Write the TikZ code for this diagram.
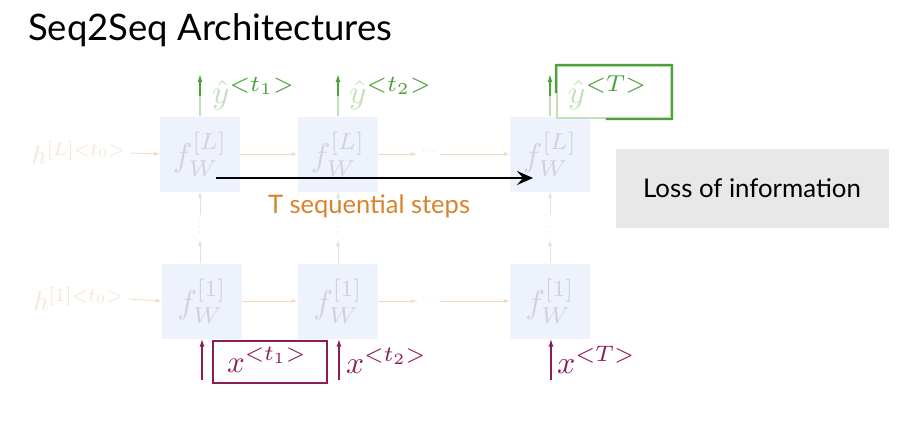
\documentclass[tikz,border=0pt]{standalone}
\usepackage{graphicx}
\usepackage{fontspec}
\setmainfont{Lato}
\usetikzlibrary{arrows.meta,calc}
\newcommand{\mathbig}[2]{\scalebox{#1}{$#2$}}
\definecolor{boxblue}{HTML}{EEF2FC}
\definecolor{ftext}{HTML}{D2D3D8}
\definecolor{hfaint}{HTML}{F5E6D8}
\definecolor{harrow}{HTML}{F7D9C0}
\definecolor{vfaint}{HTML}{D8E8D2}
\definecolor{ygreen}{HTML}{4CA23A}
\definecolor{yfade}{HTML}{C4DFBA}
\definecolor{xpurple}{HTML}{8C1D5B}
\definecolor{torange}{HTML}{D9822B}
\definecolor{lossgray}{HTML}{E8E8E8}
\tikzset{
  cell/.style={fill=boxblue, minimum width=80pt, minimum height=75pt, inner sep=0pt, text=ftext, font=\fontsize{10}{12}\selectfont},
  hlab/.style={text=hfaint, font=\fontsize{10}{12}\selectfont, inner sep=0pt},
  harr/.style={draw=harrow, line width=0.8pt, -{Latex[length=6pt,width=4pt]}},
  varr/.style={draw=vfaint, line width=0.8pt, -{Latex[length=6pt,width=4pt]}},
  garr/.style={draw=ygreen, line width=1.3pt, -{Latex[length=8pt,width=5pt]}},
  gfade/.style={draw=yfade, line width=1.3pt},
  parr/.style={draw=xpurple, line width=1.4pt, -{Latex[length=8pt,width=5pt]}},
  ylab/.style={text=ygreen, font=\fontsize{10}{12}\selectfont, inner sep=0pt},
  xlab/.style={text=xpurple, font=\fontsize{10}{12}\selectfont, inner sep=0pt},
  dotlab/.style={font=\fontsize{12}{12}\selectfont, inner sep=0pt},
}
\begin{document}
\begin{tikzpicture}[x=1pt,y=-1pt]
\useasboundingbox (0,0) rectangle (912,426);
\fill[white] (0,0) rectangle (912,426);
% title
\node[anchor=base west, inner sep=0pt, font=\fontsize{36.5}{40}\selectfont] (title) at (28,40) {Seq2Seq Architectures};
% cells
\node[cell] (t1) at (200,154) {\mathbig{3.3}{f_W^{[L]}}};
\node[cell] (t2) at (338,154) {\mathbig{3.3}{f_W^{[L]}}};
\node[cell] (t3) at (550,154) {\mathbig{3.3}{f_W^{[L]}}};
\node[cell] (b1) at (202,301) {\mathbig{3.3}{f_W^{[1]}}};
\node[cell] (b2) at (338,301) {\mathbig{3.3}{f_W^{[1]}}};
\node[cell] (b3) at (550,301) {\mathbig{3.3}{f_W^{[1]}}};
% h labels
\node[hlab] (hL) at (79,153) {\mathbig{2.65}{h^{[L]<t_0>}}};
\node[hlab] (h1) at (79,299) {\mathbig{2.65}{h^{[1]<t_0>}}};
% horizontal arrows top
\draw[harr] (hL.east) ++(4,0) coordinate (hLe) -- (t1.west);
\draw[harr] (t1.east) -- (t2.west);
\coordinate (tm1) at (417,154);
\coordinate (tm2) at (440,154);
\draw[harr] (t2.east) -- (tm1);
\node[dotlab, text=harrow] (tdots) at (429,152) {$\cdots$};
\draw[harr] (tm2) -- (t3.west);
% horizontal arrows bottom
\draw[harr] (h1.east) ++(4,0) coordinate (h1e) -- (b1.west);
\draw[harr] (b1.east) -- (b2.west);
\coordinate (bm1) at (417,301);
\coordinate (bm2) at (440,301);
\draw[harr] (b2.east) -- (bm1);
\node[dotlab, text=harrow] (bdots) at (429,299) {$\cdots$};
\draw[harr] (bm2) -- (b3.west);
% vertical arrows between layers
\foreach \i/\xx in {1/200,2/338,3/550}{
  \coordinate (va\i) at (\xx,240);
  \coordinate (vb\i) at (\xx,215);
  \draw[varr] (b\i.north -| va\i) -- (va\i);
  \node[dotlab, text=vfaint, rotate=90] (vd\i) at (\xx,227) {$\cdots$};
  \draw[varr] (vb\i) -- (t\i.south -| vb\i);
}
% green outputs
\foreach \i/\xx in {1/200,2/338,3/550}{
  \coordinate (gm\i) at (\xx,96);
  \coordinate (gt\i) at (\xx,74);
  \draw[gfade] (t\i.north -| gm\i) -- (gm\i);
  \draw[garr] (gm\i) -- (gt\i);
}
\node[ylab, anchor=base west] (y1) at (212,103) {\mathbig{3.3}{\textcolor{yfade}{\hat{y}}^{<t_1>}}};
\node[ylab, anchor=base west] (y2) at (349,103) {\mathbig{3.3}{\textcolor{yfade}{\hat{y}}^{<t_2>}}};
\node[ylab, anchor=base west] (y3) at (568,103) {\mathbig{3.3}{\textcolor{yfade}{\hat{y}}^{<T>}}};
\node[draw=yfade, line width=2.2pt, minimum width=114pt, minimum height=52pt, inner sep=0pt] (ybox) at (614,92) {};
\draw[ygreen, line width=2.2pt] ($(ybox.south west)!0.43!(ybox.south east)$) -- (ybox.south east) -- (ybox.north east) -- (ybox.north west) -- ($(ybox.north west)!0.52!(ybox.south west)$);
% purple inputs
\foreach \i/\xx in {1/202,2/339,3/551}{
  \coordinate (pb\i) at (\xx,380);
  \draw[parr] (pb\i) -- (b\i.south -| pb\i);
}
\node[xlab, anchor=base west] (x1) at (227,372) {\mathbig{3.1}{x^{<t_1>}}};
\node[xlab, anchor=base west] (x2) at (346,373) {\mathbig{3.15}{x^{<t_2>}}};
\node[xlab, anchor=base west] (x3) at (557,373) {\mathbig{3.2}{x^{<T>}}};
\node[draw=xpurple, line width=2.2pt, minimum width=114pt, minimum height=42pt, inner sep=0pt] (xbox) at (270,362) {};
% black arrow
\coordinate (ks) at (216,178);
\coordinate (ke) at (533,178);
\draw[line width=2.8pt, -{Stealth[length=16pt,width=14pt,inset=6pt]}] (ks) -- (ke);
\node[text=torange, font=\fontsize{25.5}{28}\selectfont, inner sep=0pt, anchor=base] (tsteps) at (369,213) {T sequential steps};
% loss box
\node[fill=lossgray, minimum width=273pt, minimum height=79pt, inner sep=0pt, font=\fontsize{25.8}{28}\selectfont] (loss) at (752,188) {Loss of information};
\end{tikzpicture}
\end{document}
